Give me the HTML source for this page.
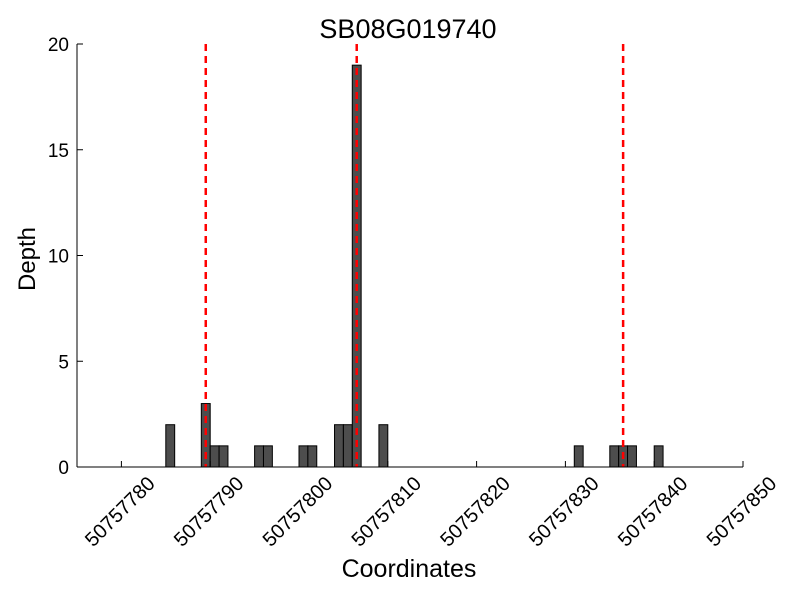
<!DOCTYPE html>
<html><head><meta charset="utf-8"><style>
body{margin:0;background:#fff}
svg text{font-family:"Liberation Sans",sans-serif;fill:#000}
</style></head><body>
<svg width="800" height="600" id="chart">
<text x="408" y="38" font-size="27" text-anchor="middle">SB08G019740</text>
<text x="409" y="577" font-size="25" text-anchor="middle">Coordinates</text>
<text transform="translate(35,259) rotate(-90)" font-size="24" text-anchor="middle">Depth</text>
<g id="bars"></g><g id="lines"></g><g id="axes"></g>
</svg>
<script>
const positions=[50757785,50757789,50757790,50757791,50757795,50757796,50757800,50757801,50757804,50757805,50757806,50757809,50757831,50757835,50757836,50757837,50757840];
const depths=[2,3,1,1,1,1,1,1,2,2,19,2,1,1,1,1,1];
const markers=[50757789.5,50757806.5,50757836.5];
const xTicks=[50757780,50757790,50757800,50757810,50757820,50757830,50757840,50757850];
const yTicks=[0,5,10,15,20];
const X0=50757775,X1=50757850,Y0=0,Y1=20;
const L=77,R=743,T=44,B=467;
const sx=v=>L+(v-X0)/(X1-X0)*(R-L);
const sy=v=>B-(v-Y0)/(Y1-Y0)*(B-T);
const NS="http://www.w3.org/2000/svg";
function mk(t,a,p){const e=document.createElementNS(NS,t);for(const k in a)e.setAttribute(k,a[k]);p.appendChild(e);return e;}
const gb=document.getElementById('bars'),gl=document.getElementById('lines'),ga=document.getElementById('axes');
positions.forEach((p,i)=>{
 const r=mk('rect',{x:sx(p),y:sy(depths[i]),width:sx(p+1)-sx(p),height:sy(0)-sy(depths[i]),fill:'#4d4d4d',stroke:'#000','stroke-width':1},gb);
 
 
});
markers.forEach(m=>{
 const l=mk('line',{x1:sx(m),x2:sx(m),y1:T,y2:B,stroke:'#ff0000','stroke-width':2.5,'stroke-dasharray':'7,5'},gl);
 
 
});
mk('line',{x1:L,x2:L,y1:T,y2:B,stroke:'#000','stroke-width':1},ga);
mk('line',{x1:L,x2:R,y1:B,y2:B,stroke:'#000','stroke-width':1},ga);
yTicks.forEach(v=>{
 mk('line',{x1:L,x2:L+6,y1:sy(v),y2:sy(v),stroke:'#000'},ga);
 const t=mk('text',{x:L-8,y:sy(v)+7,'font-size':19,'text-anchor':'end'},ga);t.textContent=v;
 
 
});
xTicks.forEach(v=>{
 const x=sx(v);
 mk('line',{x1:x,x2:x,y1:B,y2:B-6,stroke:'#000'},ga);
 const t=mk('text',{transform:`translate(${x-1},${B+45}) rotate(-45)`,'font-size':20,'text-anchor':'middle','dominant-baseline':'central'},ga);t.textContent=v;
 
 
});
</script>
</body></html>
